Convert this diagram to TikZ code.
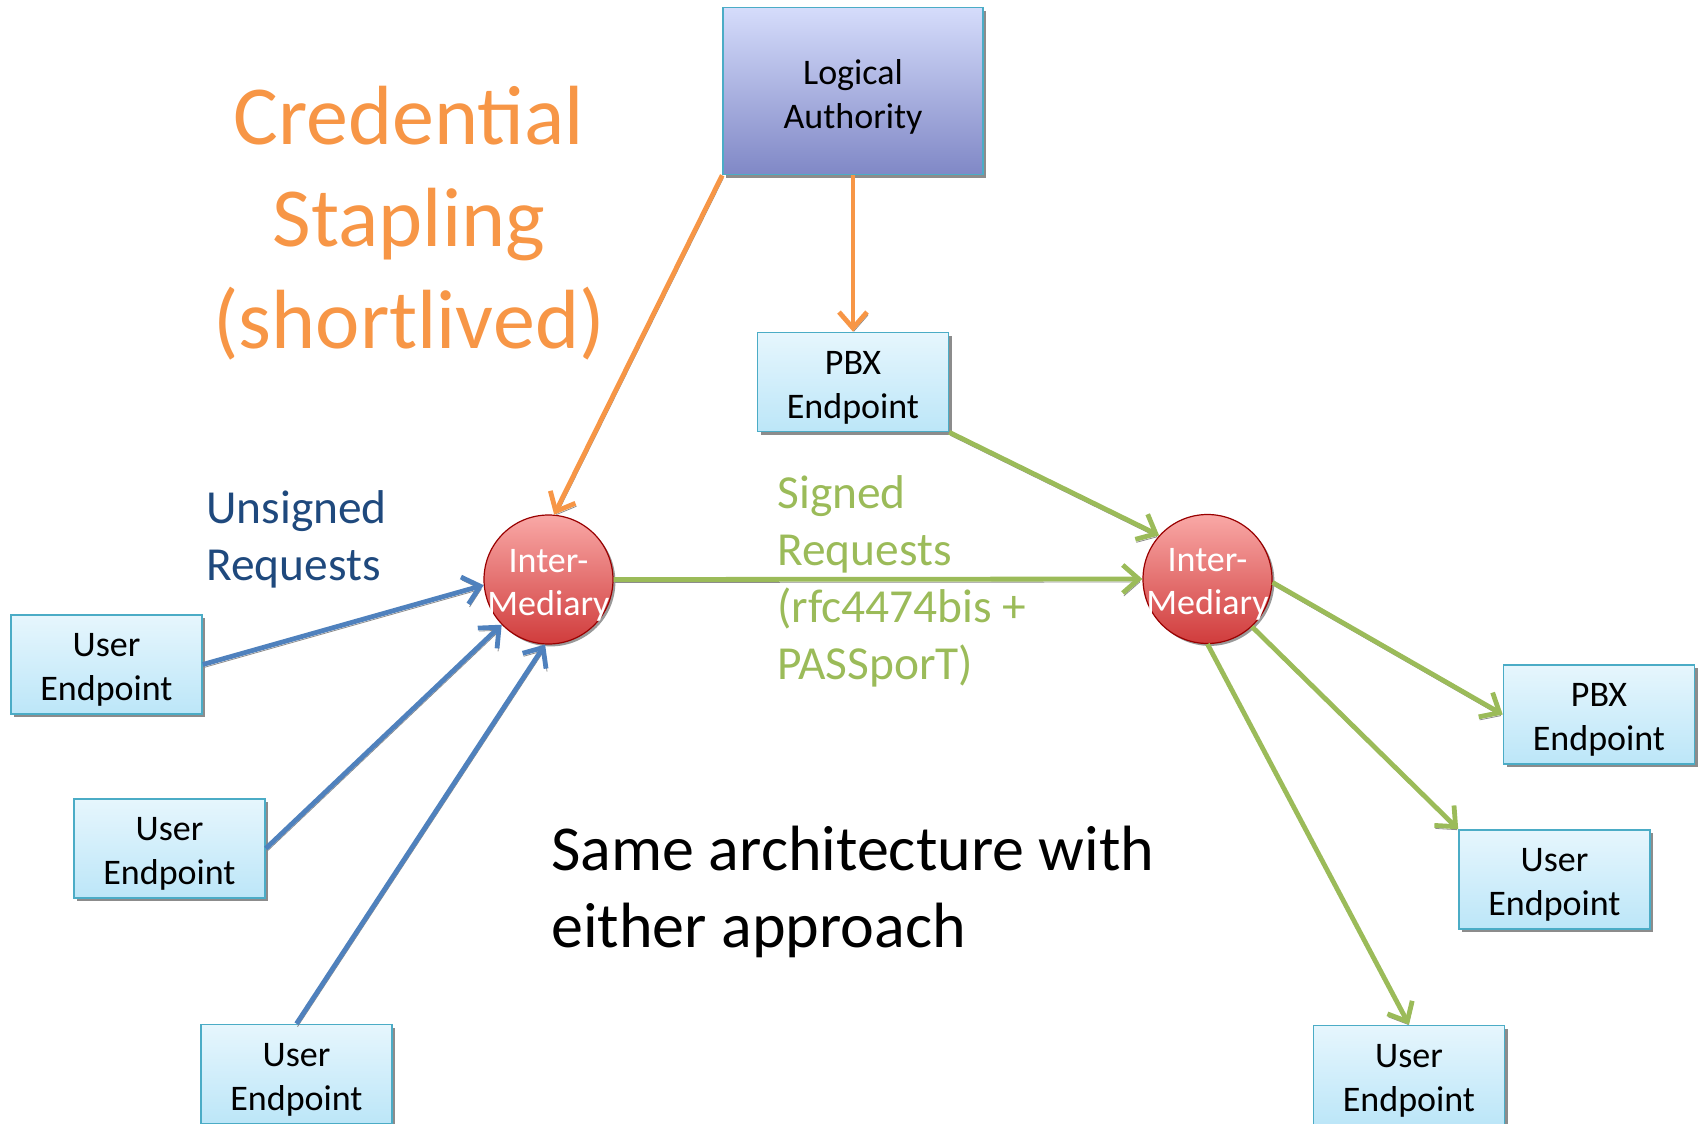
\documentclass[tikz,border=0pt]{standalone}
\usepackage{fontspec}
\setmainfont{Carlito}
\usetikzlibrary{arrows.meta,shadows}
\definecolor{flowOrange}{HTML}{F79646}
\definecolor{flowBlue}{HTML}{4F81BD}
\definecolor{flowGreen}{HTML}{9BBB59}
\definecolor{textNavy}{HTML}{1F497D}
\definecolor{boxEdge}{HTML}{4BACC6}
\definecolor{boxTop}{HTML}{E6F6FD}
\definecolor{boxBottom}{HTML}{BCE6F8}
\definecolor{authTop}{HTML}{D5DCFB}
\definecolor{authBottom}{HTML}{8088C6}
\definecolor{relayTop}{HTML}{F9A8A6}
\definecolor{relayBottom}{HTML}{D03C3C}

\begin{document}
\begin{tikzpicture}[
    x=0.5pt, y=-0.5pt,
    every node/.style={align=center},
    endpoint/.style={draw=boxEdge, line width=0.8pt, top color=boxTop, bottom color=boxBottom,
        minimum width=95.5pt, minimum height=49.5pt, inner sep=0pt, font=\fontsize{18}{22}\selectfont,
        execute at begin node={\rule{0pt}{39.2pt}},
        drop shadow={shadow xshift=1.5pt, shadow yshift=-1.5pt, fill=black!45, opacity=1}},
    authority/.style={draw=boxEdge, line width=0.8pt, top color=authTop, bottom color=authBottom,
        minimum width=130pt, minimum height=83.5pt, inner sep=0pt, font=\fontsize{18}{22}\selectfont,
        execute at begin node={\rule{0pt}{40.5pt}},
        drop shadow={shadow xshift=1.5pt, shadow yshift=-1.5pt, fill=black!45, opacity=1}},
    relay/.style={circle, draw=red!60!black, line width=0.6pt, top color=relayTop, bottom color=relayBottom,
        minimum size=64.5pt, inner sep=-6pt, text=white, font=\fontsize{18}{21.5}\selectfont,
        execute at begin node={\rule{0pt}{38.7pt}},
        drop shadow={shadow xshift=1.2pt, shadow yshift=-1.2pt, fill=black!40, opacity=1}},
    flow/.style={line width=2.4pt, -{Straight Barb[length=8pt,width=14pt,line width=2.4pt]},
        preaction={draw=black!45, transform canvas={shift={(0.5pt,-1.5pt)}}}}
]
\useasboundingbox (0,0) rectangle (1698,1124);

% Headings
\node[text=flowOrange, font=\fontsize{42}{51}\selectfont] (title) at (409,223.5) {Credential\\Stapling\\(shortlived)};
\node[anchor=west, align=left, inner sep=0pt, text=textNavy, font=\fontsize{23.7}{28.5}\selectfont] (unsigned) at (206,539) {Unsigned\\Requests};
\node[anchor=west, align=left, inner sep=0pt, text=flowGreen, font=\fontsize{23.7}{28.5}\selectfont] (signed) at (777,581.5) {Signed\\Requests\\(rfc4474bis +\\PASSporT)};
\node[anchor=west, align=left, inner sep=0pt, font=\fontsize{32}{38.5}\selectfont] (note) at (551,891.5) {Same architecture with\\either approach};

% Authority and PBX
\node[authority] (auth) at (853,91) {Logical\\Authority};
\node[endpoint] (pbxA) at (853,382) {PBX\\Endpoint};

% Intermediaries
\node[relay] (midA) at (548.5,579.5) {Inter-\\Mediary};
\node[relay] (midB) at (1207.5,579) {Inter-\\Mediary};

% Left side endpoints
\node[endpoint] (userA) at (106.5,664.5) {User\\Endpoint};
\node[endpoint] (userB) at (169.5,848.5) {User\\Endpoint};
\node[endpoint] (userC) at (296.5,1074) {User\\Endpoint};

% Right side endpoints
\node[endpoint] (pbxB) at (1599,714.5) {PBX\\Endpoint};
\node[endpoint] (userD) at (1554.5,879.5) {User\\Endpoint};
\node[endpoint] (userE) at (1409,1075) {User\\Endpoint};

% Credential flows
\draw[flow, flowOrange] (auth.south west) -- (midA.85);
\draw[flow, flowOrange] (auth.south) -- (pbxA.north);

% Unsigned requests
\draw[flow, flowBlue] (userA.east) -- (midA.185);
\draw[flow, flowBlue] (userB.east) -- (midA.224);
\draw[flow, flowBlue] (userC.north) -- (midA.267);

% Signed requests
\draw[flow, flowGreen] (midA.east) -- (midB.west);
\draw[flow, flowGreen] (pbxA.south east) -- (midB.138);
\draw[flow, flowGreen] (midB.-3) -- (pbxB.west);
\draw[flow, flowGreen] (midB.-47) -- (userD.north west);
\draw[flow, flowGreen] (midB.south) -- (userE.north);

\end{tikzpicture}
\end{document}
